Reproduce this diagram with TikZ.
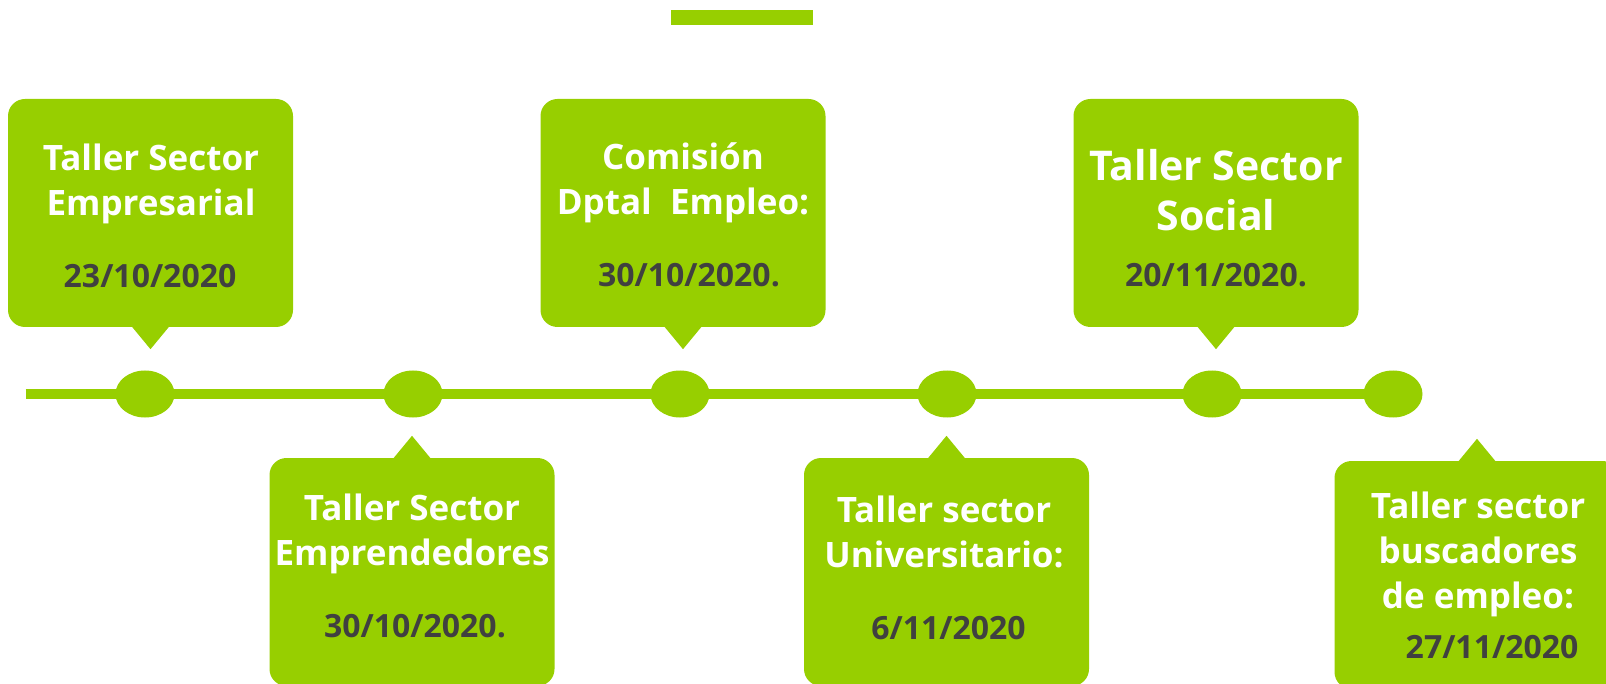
\documentclass[tikz,border=0pt]{standalone}
\usepackage{fontspec}
\setmainfont{Open Sans}
\usetikzlibrary{shapes.geometric}
\definecolor{lima}{RGB}{151,207,0}
\definecolor{gris}{RGB}{64,64,64}
\begin{document}
\begin{tikzpicture}[x=1pt,y=-1pt,
        caja/.style={fill=lima,rectangle,rounded corners=17pt,inner sep=0pt,minimum width=285pt,minimum height=228pt},
        punto/.style={fill=lima,ellipse,inner sep=0pt,minimum width=59pt,minimum height=47pt},
        titulo/.style={text=white,align=center,inner sep=0pt,anchor=base,font=\fontsize{35}{45}\selectfont\bfseries},
        fecha/.style={text=gris,inner sep=0pt,anchor=base,font=\fontsize{32}{38}\selectfont\bfseries}
      ]
      \useasboundingbox (0,0) rectangle (1606,684);
      \fill[lima] (671,10) rectangle (813,25.5);
      % cajas de arriba y de abajo
      \node[caja] (b1) at (150.5,213) {};
      \node[caja] (b3) at (683,213) {};
      \node[caja] (b5) at (1216,213) {};
      \node[caja] (b2) at (412,572) {};
      \node[caja] (b4) at (946.5,572) {};
      \node[caja] (b6) at (1477,575) {};
      \foreach \b in {b1,b3,b5}
        \fill[lima] ([xshift=-19pt,yshift=1pt]\b.south) -- ([xshift=19pt,yshift=1pt]\b.south) -- ([yshift=-22pt]\b.south) -- cycle;
      \foreach \b in {b2,b4,b6}
        \fill[lima] ([xshift=-19pt,yshift=-1pt]\b.north) -- ([xshift=19pt,yshift=-1pt]\b.north) -- ([yshift=22pt]\b.north) -- cycle;
      % linea de tiempo
      \node[punto] (e1) at (145,394) {};
      \node[punto] (e2) at (413,394) {};
      \node[punto] (e3) at (680,394) {};
      \node[punto] (e4) at (947,394) {};
      \node[punto] (e5) at (1212,394) {};
      \node[punto] (e6) at (1393,394) {};
      \coordinate (inicio) at (25.5,394);
      \draw[lima,line width=10pt] (inicio) -- (e6.center);
      % textos (base = ultima linea)
      \node[titulo] (t1) at (151,216) {Taller Sector\\Empresarial};
      \node[titulo] (t3) at (683,215) {Comisión\\Dptal\ \ Empleo:};
      \node[titulo,font=\fontsize{41}{50}\selectfont\bfseries] (t5) at (1216,231) {Taller Sector\\Social};
      \node[titulo] (t2) at (412,565) {Taller Sector\\Emprendedores};
      \node[titulo] (t4) at (944,567) {Taller sector\\Universitario:};
      \node[titulo] (t6) at (1478,608) {Taller sector\\buscadores\\de empleo:};
      \node[fecha] (d1) at (150,288) {23/10/2020};
      \node[fecha] (d3) at (689,287) {30/10/2020.};
      \node[fecha] (d5) at (1216,287) {20/11/2020.};
      \node[fecha] (d2) at (415,637) {30/10/2020.};
      \node[fecha] (d4) at (948.5,639) {6/11/2020};
      \node[fecha] (d6) at (1492,658) {27/11/2020};
    \end{tikzpicture}
\end{document}
